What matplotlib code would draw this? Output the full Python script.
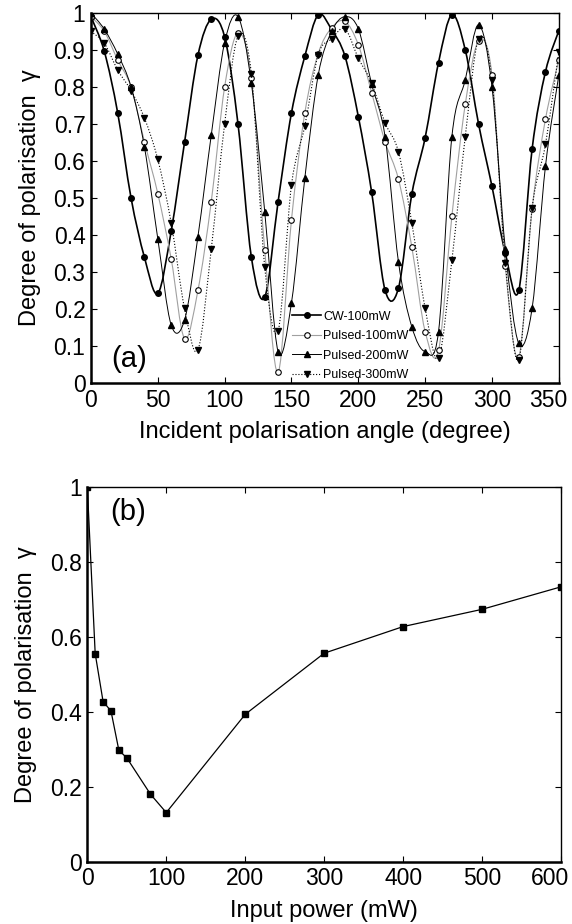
import matplotlib
matplotlib.use("Agg")
import matplotlib.pyplot as plt
import matplotlib.transforms as mtransforms
import numpy as np
from matplotlib.path import Path
from matplotlib.patches import PathPatch
from matplotlib.lines import Line2D

plt.rcParams['font.family'] = ['Liberation Sans', 'DejaVu Sans']

# (a) degree of polarisation vs incident polarisation angle
angle = [0, 10, 20, 30, 40, 50, 60, 70, 80, 90, 100, 110, 120, 130, 140, 150, 160, 170,
         180, 190, 200, 210, 220, 230, 240, 250, 260, 270, 280, 290, 300, 310, 320, 330, 340, 350]

cw_100 = [0.99, 0.896, 0.73, 0.50, 0.34, 0.242, 0.41, 0.65, 0.885, 0.983, 0.935, 0.70,
          0.34, 0.232, 0.49, 0.73, 0.883, 0.995, 0.955, 0.883, 0.72, 0.515, 0.251, 0.256,
          0.51, 0.663, 0.866, 0.995, 0.90, 0.699, 0.531, 0.35, 0.25, 0.632, 0.841, 0.952]

pulsed_100 = [0.99, 0.95, 0.873, 0.80, 0.652, 0.512, 0.336, 0.12, 0.25, 0.49, 0.80, 0.946,
              0.824, 0.36, 0.029, 0.441, 0.73, 0.89, 0.96, 0.977, 0.914, 0.784, 0.652, 0.551,
              0.368, 0.139, 0.088, 0.451, 0.753, 0.924, 0.832, 0.316, 0.07, 0.47, 0.713, 0.873]

pulsed_200 = [1.0, 0.956, 0.889, 0.80, 0.638, 0.39, 0.157, 0.17, 0.395, 0.67, 0.92, 0.99,
              0.81, 0.463, 0.085, 0.217, 0.554, 0.832, 0.95, 0.99, 0.957, 0.807, 0.666, 0.328,
              0.152, 0.085, 0.139, 0.666, 0.819, 0.968, 0.80, 0.361, 0.107, 0.202, 0.586, 0.832]

pulsed_300 = [0.95, 0.918, 0.846, 0.79, 0.716, 0.604, 0.433, 0.202, 0.089, 0.362, 0.70, 0.937,
              0.836, 0.313, 0.141, 0.535, 0.695, 0.887, 0.93, 0.957, 0.878, 0.81, 0.703, 0.625,
              0.433, 0.202, 0.067, 0.332, 0.666, 0.93, 0.819, 0.324, 0.062, 0.472, 0.645, 0.895]

# (b) degree of polarisation vs input power
power = [0, 10, 20, 30, 40, 50, 80, 100, 200, 300, 400, 500, 600]
gamma_power = [1.0, 0.555, 0.427, 0.402, 0.297, 0.277, 0.18, 0.131, 0.393, 0.556, 0.627, 0.673, 0.733]


def smooth_path(x, y):
    # catmull-rom through the measured points, drawn as bezier segments
    p = np.column_stack([x, y]).astype(float)
    n = len(p)
    verts = [p[0]]
    codes = [Path.MOVETO]
    for i in range(n - 1):
        p0 = p[i - 1] if i > 0 else p[i]
        p1 = p[i]
        p2 = p[i + 1]
        p3 = p[i + 2] if i + 2 < n else p[i + 1]
        verts += [p1 + (p2 - p0) / 6.0, p2 - (p3 - p1) / 6.0, p2]
        codes += [Path.CURVE4] * 3
    return Path(verts, codes)


def style_axes(ax):
    ax.tick_params(direction='in', length=4, width=0.8, top=True, right=True,
                   labelsize=16.5, pad=4)
    for side in ['left', 'bottom']:
        ax.spines[side].set_linewidth(1.8)
    for side in ['top', 'right']:
        ax.spines[side].set_linewidth(1.0)
    # last x label sits inside the figure, like the original
    fig.canvas.draw()
    last = ax.get_xticklabels()[-1]
    last.set_horizontalalignment('right')
    last.set_transform(last.get_transform() + mtransforms.ScaledTranslation(8 / 100, 0, fig.dpi_scale_trans))


fig = plt.figure(figsize=(5.72, 9.24), dpi=100)
ax1 = fig.add_axes([0.159, 0.5855, 0.818, 0.4005])
ax2 = fig.add_axes([0.1526, 0.0674, 0.8284, 0.4059])

series = [
    (cw_100, dict(color='black', lw=1.2, ls='-'), dict(marker='o', mfc='black', mec='black', ms=4), 'CW-100mW'),
    (pulsed_100, dict(color='#a0a0a0', lw=0.8, ls='-'), dict(marker='o', mfc='white', mec='black', ms=4, mew=0.8), 'Pulsed-100mW'),
    (pulsed_200, dict(color='black', lw=0.7, ls='-'), dict(marker='^', mfc='black', mec='black', ms=4.5), 'Pulsed-200mW'),
    (pulsed_300, dict(color='black', lw=0.8, ls=':'), dict(marker='v', mfc='black', mec='black', ms=4.5), 'Pulsed-300mW'),
]

handles = []
for vals, lstyle, mstyle, name in series:
    patch = PathPatch(smooth_path(angle, vals), fill=False, edgecolor=lstyle['color'],
                      lw=lstyle['lw'], ls=lstyle['ls'])
    ax1.add_patch(patch)
    ax1.plot(angle, vals, ls='none', **mstyle)
    handles.append(Line2D([], [], color=lstyle['color'], lw=lstyle['lw'], ls=lstyle['ls'], **mstyle))

ax1.set_xlim(0, 350)
ax1.set_ylim(0, 1)
ax1.set_xticks(np.arange(0, 351, 50))
ax1.set_yticks(np.arange(0, 1.01, 0.1))
ax1.set_yticklabels(['0', '0.1', '0.2', '0.3', '0.4', '0.5', '0.6', '0.7', '0.8', '0.9', '1'])
style_axes(ax1)
ax1.set_xlabel('Incident polarisation angle (degree)', fontsize=17, labelpad=7)
ax1.set_ylabel('Degree of polarisation  γ', fontsize=17, labelpad=9)
ax1.text(15, 0.043, '(a)', fontsize=21, va='baseline', ha='left')
ax1.legend(handles, [s[3] for s in series], loc='lower left', bbox_to_anchor=(0.43, 0.005),
           frameon=False, fontsize=9, handlelength=2.3, handletextpad=0.2,
           labelspacing=0.6, borderpad=0, borderaxespad=0)

ax2.plot(power, gamma_power, color='black', lw=0.9, marker='s', ms=4, mfc='black', mec='black')
ax2.set_xlim(0, 600)
ax2.set_ylim(0, 1)
ax2.set_xticks(np.arange(0, 601, 100))
ax2.set_yticks([0, 0.2, 0.4, 0.6, 0.8, 1.0])
ax2.set_yticklabels(['0', '0.2', '0.4', '0.6', '0.8', '1'])
style_axes(ax2)
ax2.set_xlabel('Input power (mW)', fontsize=17, labelpad=7)
ax2.set_ylabel('Degree of polarisation  γ', fontsize=17, labelpad=9)
ax2.text(29, 0.911, '(b)', fontsize=21, va='baseline', ha='left')

fig.savefig('out.png', dpi=100)
